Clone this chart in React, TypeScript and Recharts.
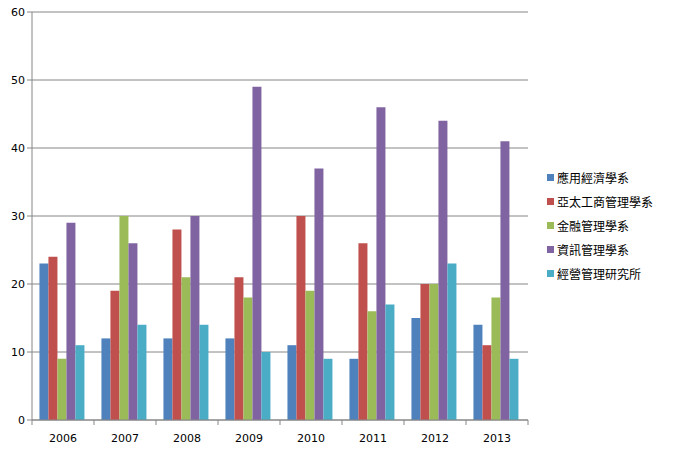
import React from 'react';
import { BarChart, Bar, XAxis, YAxis, CartesianGrid, Legend } from 'recharts';

const years = ['2006', '2007', '2008', '2009', '2010', '2011', '2012', '2013'];
const seriesNames = ['應用經濟學系', '亞太工商管理學系', '金融管理學系', '資訊管理學系', '經營管理研究所'];
const s1 = [23, 12, 12, 12, 11, 9, 15, 14];
const s2 = [24, 19, 28, 21, 30, 26, 20, 11];
const s3 = [9, 30, 21, 18, 19, 16, 20, 18];
const s4 = [29, 26, 30, 49, 37, 46, 44, 41];
const s5 = [11, 14, 14, 10, 9, 17, 23, 9];
const colors = ['#4F81BD', '#C0504D', '#9BBB59', '#8064A2', '#4BACC6'];
const yTicks = [0, 10, 20, 30, 40, 50, 60];

const seriesValues = [s1, s2, s3, s4, s5];
const data = years.map((y, i) => {
  const row: Record<string, any> = { year: y };
  seriesNames.forEach((n, k) => {
    row[n] = seriesValues[k][i];
  });
  return row;
});

const XTick = (props: any) => {
  const { x, y, payload, index } = props;
  const band = 496 / years.length;
  return (
    <g>
      <line x1={x - band / 2} y1={y - 8} x2={x - band / 2} y2={y - 3} stroke="#868686" />
      {index === years.length - 1 && (
        <line x1={x + band / 2} y1={y - 8} x2={x + band / 2} y2={y - 3} stroke="#868686" />
      )}
      <text x={x} y={y + 14} textAnchor="middle" fontSize={11} fill="#000" fontFamily="DejaVu Sans, sans-serif">
        {payload.value}
      </text>
    </g>
  );
};

const LegendContent = () => (
  <div style={{ fontFamily: '"Noto Sans CJK TC", sans-serif', fontSize: 12, color: '#000' }}>
    {seriesNames.map((n, i) => (
      <div key={n} style={{ display: 'flex', alignItems: 'center', height: 24 }}>
        <span style={{ display: 'inline-block', width: 7, height: 7, background: colors[i], marginRight: 3 }} />
        <span>{n}</span>
      </div>
    ))}
  </div>
);

export default function App() {
  return (
    <div style={{ position: 'absolute', left: 0, top: 0, background: '#fff' }}>
      <BarChart
        width={673}
        height={450}
        data={data}
        margin={{ top: 12, right: 145, bottom: 0, left: 0 }}
        barCategoryGap="12%"
        barGap={0}
      >
        <CartesianGrid vertical={false} stroke="#868686" strokeDasharray="" />
        <XAxis
          dataKey="year"
          height={30}
          stroke="#868686"
          tickLine={false}
          tick={<XTick />}
          interval={0}
        />
        <YAxis
          width={32}
          domain={[0, 60]}
          ticks={yTicks}
          stroke="#868686"
          tickSize={5}
          tick={{ fill: '#000', fontSize: 11, fontFamily: 'DejaVu Sans, sans-serif' }}
        />
        <Legend
          layout="horizontal"
          verticalAlign="middle"
          align="center"
          content={<LegendContent />}
          wrapperStyle={{ position: 'absolute', left: 547, top: 165, width: 126 }}
        />
        {seriesNames.map((n, i) => (
          <Bar key={n} dataKey={n} fill={colors[i]} isAnimationActive={false} />
        ))}
      </BarChart>
    </div>
  );
}
